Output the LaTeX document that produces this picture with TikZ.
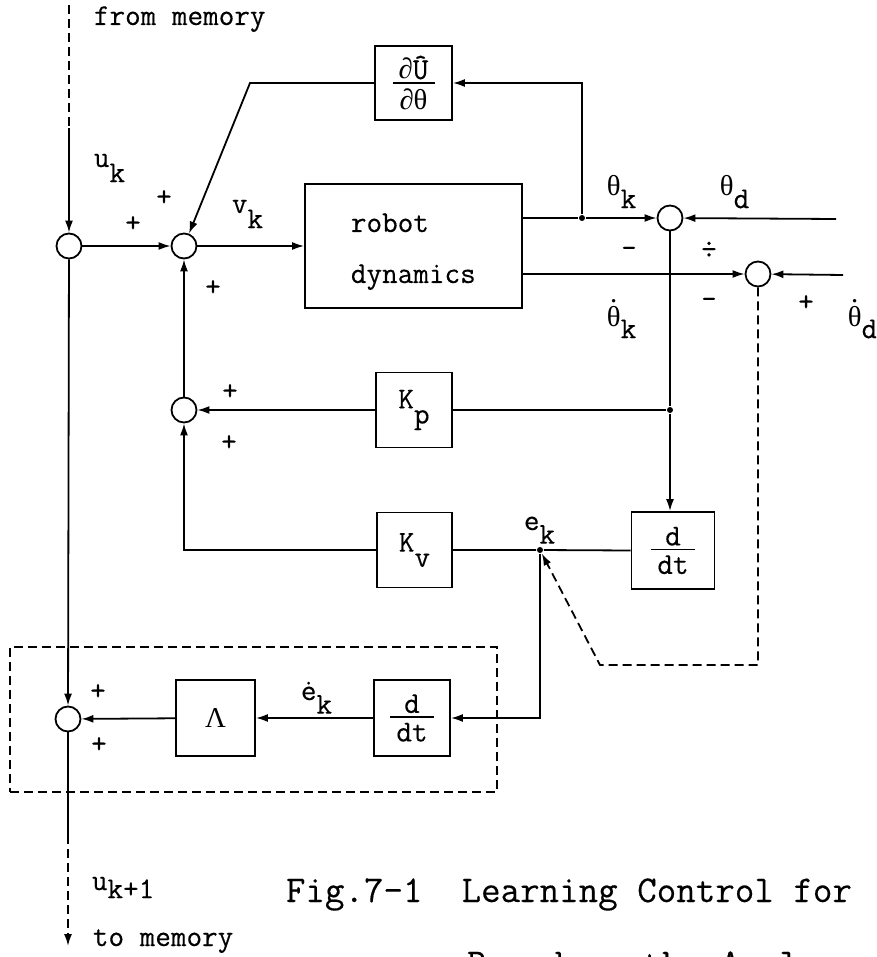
\documentclass[tikz,border=0pt]{standalone}
\usepackage{fontspec}
\setmainfont{Latin Modern Mono}[FakeBold=0.3]
\newfontfamily\grk{Liberation Serif}[Scale=0.95]
\usetikzlibrary{arrows.meta,calc}

% letter with a lowered, full-size index
\newcommand\withsub[3][0.5em]{#2\raisebox{-#1}{#3}}
% dot placed over a single character
\newcommand\dotop[2][0.72em]{\ooalign{#2\cr\hidewidth\raisebox{#1}{.}\hidewidth\cr}}
% upright Greek letters
\newcommand\gth{{\grk θ}}
\newcommand\gdth{{\grk\dotop[0.82em]{θ}}}
\newcommand\gpd{{\grk ∂}}
% stacked fraction: rule width, numerator, denominator
\newcommand\fracstack[3]{\vbox{\offinterlineskip\halign{\hfil##\hfil\cr#2\cr\noalign{\kern3pt}\rule{#1}{1.8pt}\cr\noalign{\kern5pt}#3\cr}}}

\begin{document}
\begin{tikzpicture}[x=1pt,y=-1pt,line width=1.8pt,
  >={Latex[length=12pt,width=8pt]},
  diagfont/.style={font=\fontsize{30.3}{34}\selectfont},
  sumpt/.style={circle,draw,fill=white,minimum size=25pt,inner sep=0pt},
  blk/.style={rectangle,draw,inner sep=0pt,diagfont},
  txt/.style={inner sep=0pt,diagfont},
  captxt/.style={inner sep=0pt,font=\fontsize{37.9}{42}\selectfont},
  jdot/.style={circle,fill,inner sep=0pt,minimum size=6pt},
  dashline/.style={dash pattern=on 9pt off 5pt},
  grpbox/.style={draw,dashline,line width=1.6pt,inner sep=0pt}]

\useasboundingbox (0,0) rectangle (876,957);
\clip (0,0) rectangle (876,957);

% summing junctions
\node[sumpt] (s1) at (69,246) {};
\node[sumpt] (s2) at (184,246) {};
\node[sumpt] (s3) at (670,218) {};
\node[sumpt] (s4) at (758,274) {};
\node[sumpt] (s5) at (184,410) {};
\node[sumpt] (s6) at (68,719) {};

% blocks
\node[blk,minimum width=77pt,minimum height=74pt] (dU) at (413.5,83) {\fracstack{42pt}{\gpd Û}{\gpd\gth}};
\node[blk,minimum width=217pt,minimum height=124pt] (rob) at (413.5,246) {};
\node[txt,anchor=base west] (robA) at (350,232) {robot};
\node[txt,anchor=base west] (robB) at (350,283) {dynamics};
\node[blk,minimum width=76pt,minimum height=75pt] (kp) at (414,410) {\withsub{K}{p}};
\node[blk,minimum width=75pt,minimum height=75pt] (kv) at (414.5,550) {\withsub{K}{v}};
\node[blk,minimum width=83pt,minimum height=77pt] (dd1) at (673,550.5) {\fracstack{44pt}{d}{dt}};
\node[blk,minimum width=76pt,minimum height=76pt] (dd2) at (412,718) {\fracstack{44pt}{d}{dt}};
\node[blk,minimum width=79pt,minimum height=76pt] (lam) at (215.5,718) {{\grk Λ}};

% learning-update group
\node[grpbox,minimum width=487pt,minimum height=145pt] (grp) at (253.5,719.5) {};

% branch points
\node[jdot] (j1) at (582,218) {};
\node[jdot] (j2) at (670,410) {};
\node[jdot] (je) at (540,550) {};

% free ends and bends
\coordinate (memin) at (69,5);
\coordinate (memsolid) at (69,128);
\coordinate (bend) at (250,83);
\coordinate (thd) at (836,219);
\coordinate (thdd) at (843,275);
\coordinate (dsh1) at (758,665);
\coordinate (dsh2) at (600,665);
\coordinate (outsolid) at (68,835);
\coordinate (memout) at (68,946);

% signal paths
\draw[dashline] (memin) -- (memsolid);
\draw[->] (memsolid) -- (s1);
\draw[->] (s1) -- (s2);
\draw[->] (dU.west) -- (bend) -- (s2);
\draw[->] (s2) -- (rob.west);
\draw (rob.east |- s3) -- (j1);
\draw[->] (j1) -- (s3);
\draw[->] (j1) |- (dU.east);
\draw[->] (thd) -- (s3);
\draw[->] (rob.east |- s4) -- (s4);
\draw[->] (thdd) -- (s4);
\draw (s3) -- (j2);
\draw[->] (j2) -- (j2 |- dd1.north);
\draw (j2) -- (kp.east);
\draw[->] (kp.west) -- (s5);
\draw[->] (s5) -- (s2);
\draw (dd1.west) -- (je) -- (kv.east);
\draw[->] (kv.west) -| (s5.south);
\draw[->] (je) |- (dd2.east);
\draw[->,dashline] (s4) -- (dsh1) -- (dsh2) -- (je);
\draw[->] (dd2) -- (lam);
\draw[->] (lam) -- (s6);
\draw[->] (s1) -- (s6);
\draw (s6) -- (outsolid);
\draw[->,dashline] (outsolid) -- (memout);

% signal names
\node[txt,anchor=base west] (tfrom) at (93,25) {from memory};
\node[txt,anchor=base west] (tuk) at (93,167) {\withsub{u}{k}};
\node[txt,anchor=base west] (tvk) at (231,213) {\withsub{v}{k}};
\node[txt,anchor=base west] (tthk) at (606,196) {\withsub[0.4em]{\gth}{k}};
\node[txt,anchor=base west] (tthd) at (719,196) {\withsub[0.4em]{\gth}{d}};
\node[txt,anchor=base west] (tthdk) at (606,326) {\withsub[0.4em]{\gdth}{k}};
\node[txt,anchor=base west] (tthdd) at (847,326) {\withsub[0.4em]{\gdth}{d}};
\node[txt,anchor=base west] (tek) at (523,530) {\withsub[0.45em]{e}{k}};
\node[txt,anchor=base west] (tedk) at (300,700) {\withsub[0.45em]{\.{e}}{k}};
\node[txt,anchor=base west] (tuk1) at (91,890) {\withsub[0.27em]{u}{k+1}};
\node[txt,anchor=base west] (tto) at (92,946) {to memory};

% signs at the junctions
\node[txt] (p1) at (133,224) {+};
\node[txt] (p2) at (164,198) {+};
\node[txt] (p3) at (213,288) {+};
\node[txt] (m1) at (629,252) {-};
\node[txt] (p4) at (709,250) {÷};
\node[txt] (m2) at (709,303) {-};
\node[txt] (p5) at (806,303) {+};
\node[txt] (p6) at (230,392) {+};
\node[txt] (p7) at (229,443) {+};
\node[txt] (p8) at (98,692) {+};
\node[txt] (p9) at (99,745) {+};

% caption
\node[captxt,anchor=base west] (cap1) at (285,902) {Fig.7-1\ \ Learning Control for};
\node[captxt,anchor=base west] (cap2) at (466,975) {Based on the Analy};

\end{tikzpicture}
\end{document}
